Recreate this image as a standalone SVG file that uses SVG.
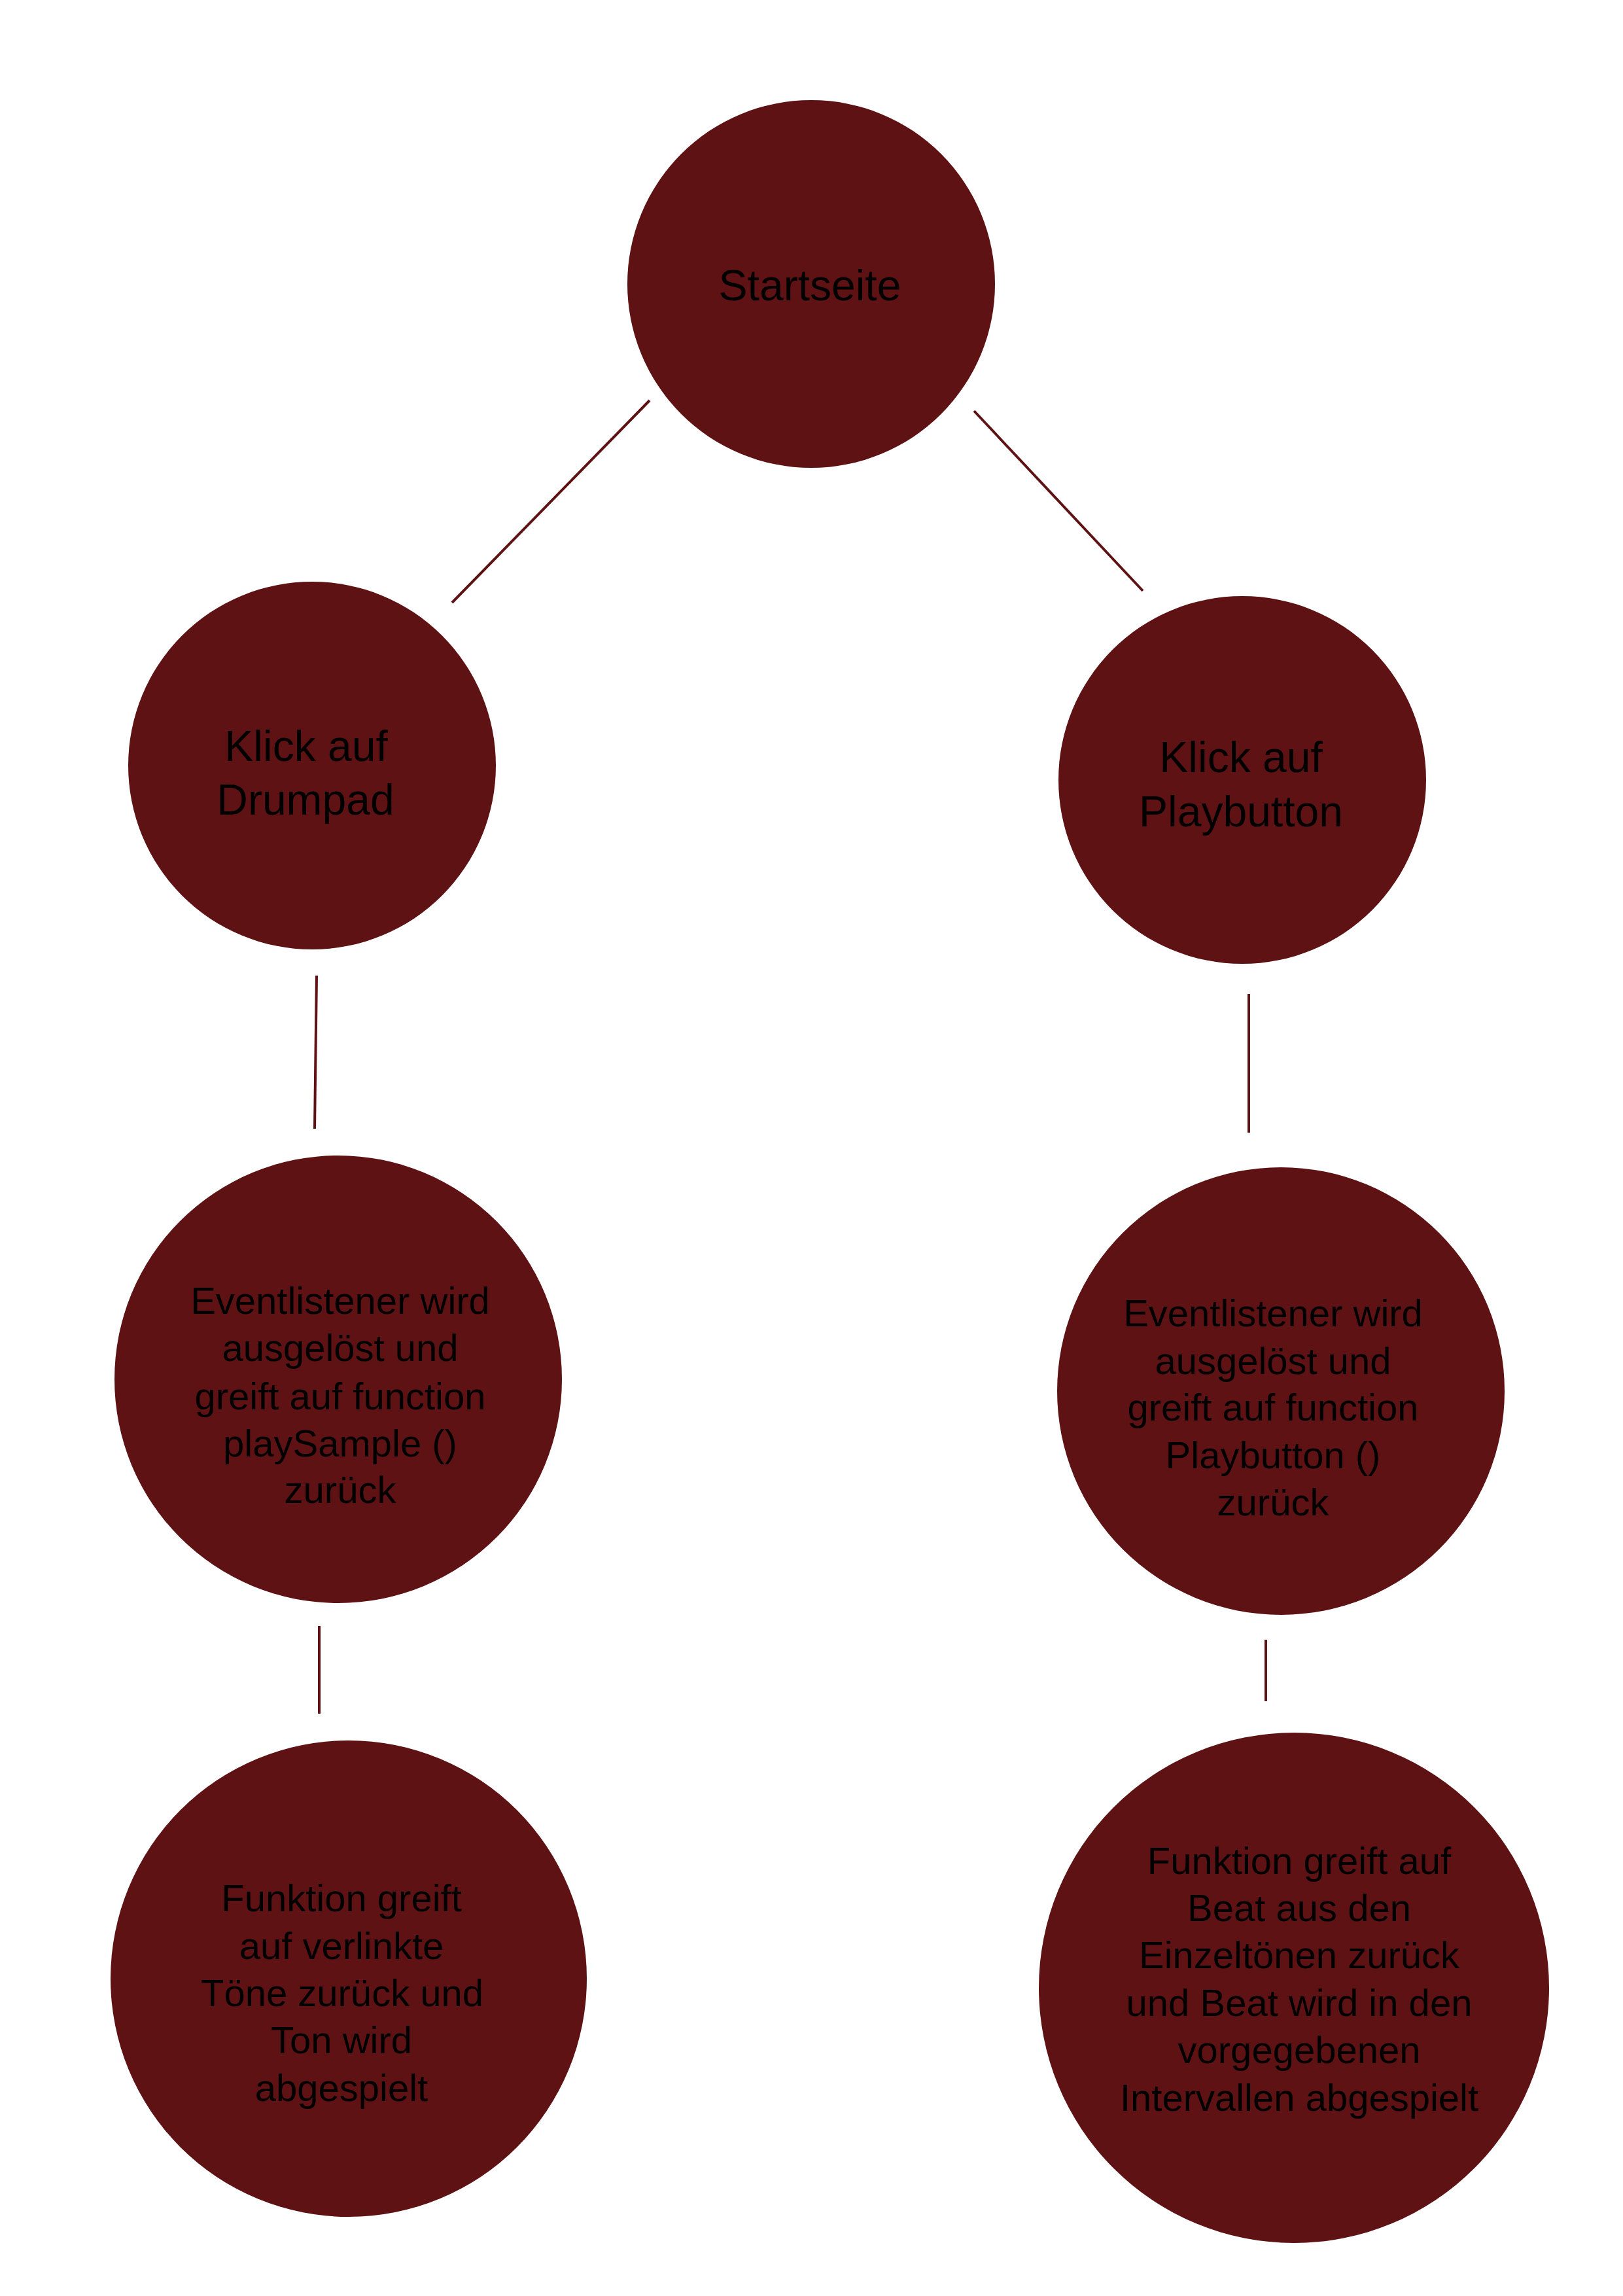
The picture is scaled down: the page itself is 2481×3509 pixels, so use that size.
<svg xmlns="http://www.w3.org/2000/svg" width="2481" height="3509" viewBox="0 0 2481 3509">
  <style>
    .node { fill: #5e1214; }
    .link { stroke: #5e1214; stroke-width: 4; fill: none; }
    .label { font-family: "Liberation Sans", Arial, sans-serif; fill: #000000; text-anchor: middle; }
    .big { font-size: 66px; }
    .small { font-size: 58px; }
  </style>
  <rect width="2481" height="3509" fill="#ffffff"/>

  <!-- connectors -->
  <g id="connectors">
    <line class="link" x1="993" y1="612" x2="691" y2="921"/>
    <line class="link" x1="1489" y1="628" x2="1747" y2="903"/>
    <line class="link" x1="484" y1="1491" x2="481" y2="1725"/>
    <line class="link" x1="1909" y1="1519" x2="1909" y2="1731"/>
    <line class="link" x1="488" y1="2485" x2="488" y2="2619"/>
    <line class="link" x1="1935" y1="2506" x2="1935" y2="2600"/>
  </g>

  <!-- start node -->
  <g id="startseite">
    <circle class="node" cx="1240" cy="434" r="281"/>
    <text class="label big" x="1238" y="459">Startseite</text>
  </g>

  <!-- left branch: drum pad -->
  <g id="klick-drumpad">
    <circle class="node" cx="477" cy="1170" r="281"/>
    <text class="label big" x="468" y="1163">Klick auf</text>
    <text class="label big" x="467" y="1245">Drumpad</text>
  </g>

  <g id="eventlistener-drumpad">
    <circle class="node" cx="517" cy="2108" r="342"/>
    <text class="label small" x="520" y="2008">Eventlistener wird</text>
    <text class="label small" x="520" y="2080">ausgelöst und</text>
    <text class="label small" x="520" y="2154">greift auf function</text>
    <text class="label small" x="520" y="2226">playSample ()</text>
    <text class="label small" x="520" y="2297">zurück</text>
  </g>

  <g id="funktion-drumpad">
    <circle class="node" cx="533" cy="3024" r="364"/>
    <text class="label small" x="522" y="2921">Funktion greift</text>
    <text class="label small" x="522" y="2994">auf verlinkte</text>
    <text class="label small" x="523" y="3066">Töne zurück und</text>
    <text class="label small" x="522" y="3138">Ton wird</text>
    <text class="label small" x="522" y="3211">abgespielt</text>
  </g>

  <!-- right branch: play button -->
  <g id="klick-playbutton">
    <circle class="node" cx="1899" cy="1192" r="281"/>
    <text class="label big" x="1897" y="1180">Klick auf</text>
    <text class="label big" x="1897" y="1263">Playbutton</text>
  </g>

  <g id="eventlistener-playbutton">
    <circle class="node" cx="1958" cy="2126" r="342"/>
    <text class="label small" x="1946" y="2027">Eventlistener wird</text>
    <text class="label small" x="1946" y="2100">ausgelöst und</text>
    <text class="label small" x="1946" y="2171">greift auf function</text>
    <text class="label small" x="1946" y="2244">Playbutton ()</text>
    <text class="label small" x="1946" y="2316">zurück</text>
  </g>

  <g id="funktion-playbutton">
    <circle class="node" cx="1978" cy="3038" r="390"/>
    <text class="label small" x="1986" y="2864">Funktion greift auf</text>
    <text class="label small" x="1986" y="2936">Beat aus den</text>
    <text class="label small" x="1986" y="3008">Einzeltönen zurück</text>
    <text class="label small" x="1986" y="3081">und Beat wird in den</text>
    <text class="label small" x="1986" y="3153">vorgegebenen</text>
    <text class="label small" x="1986" y="3226">Intervallen abgespielt</text>
  </g>
</svg>
